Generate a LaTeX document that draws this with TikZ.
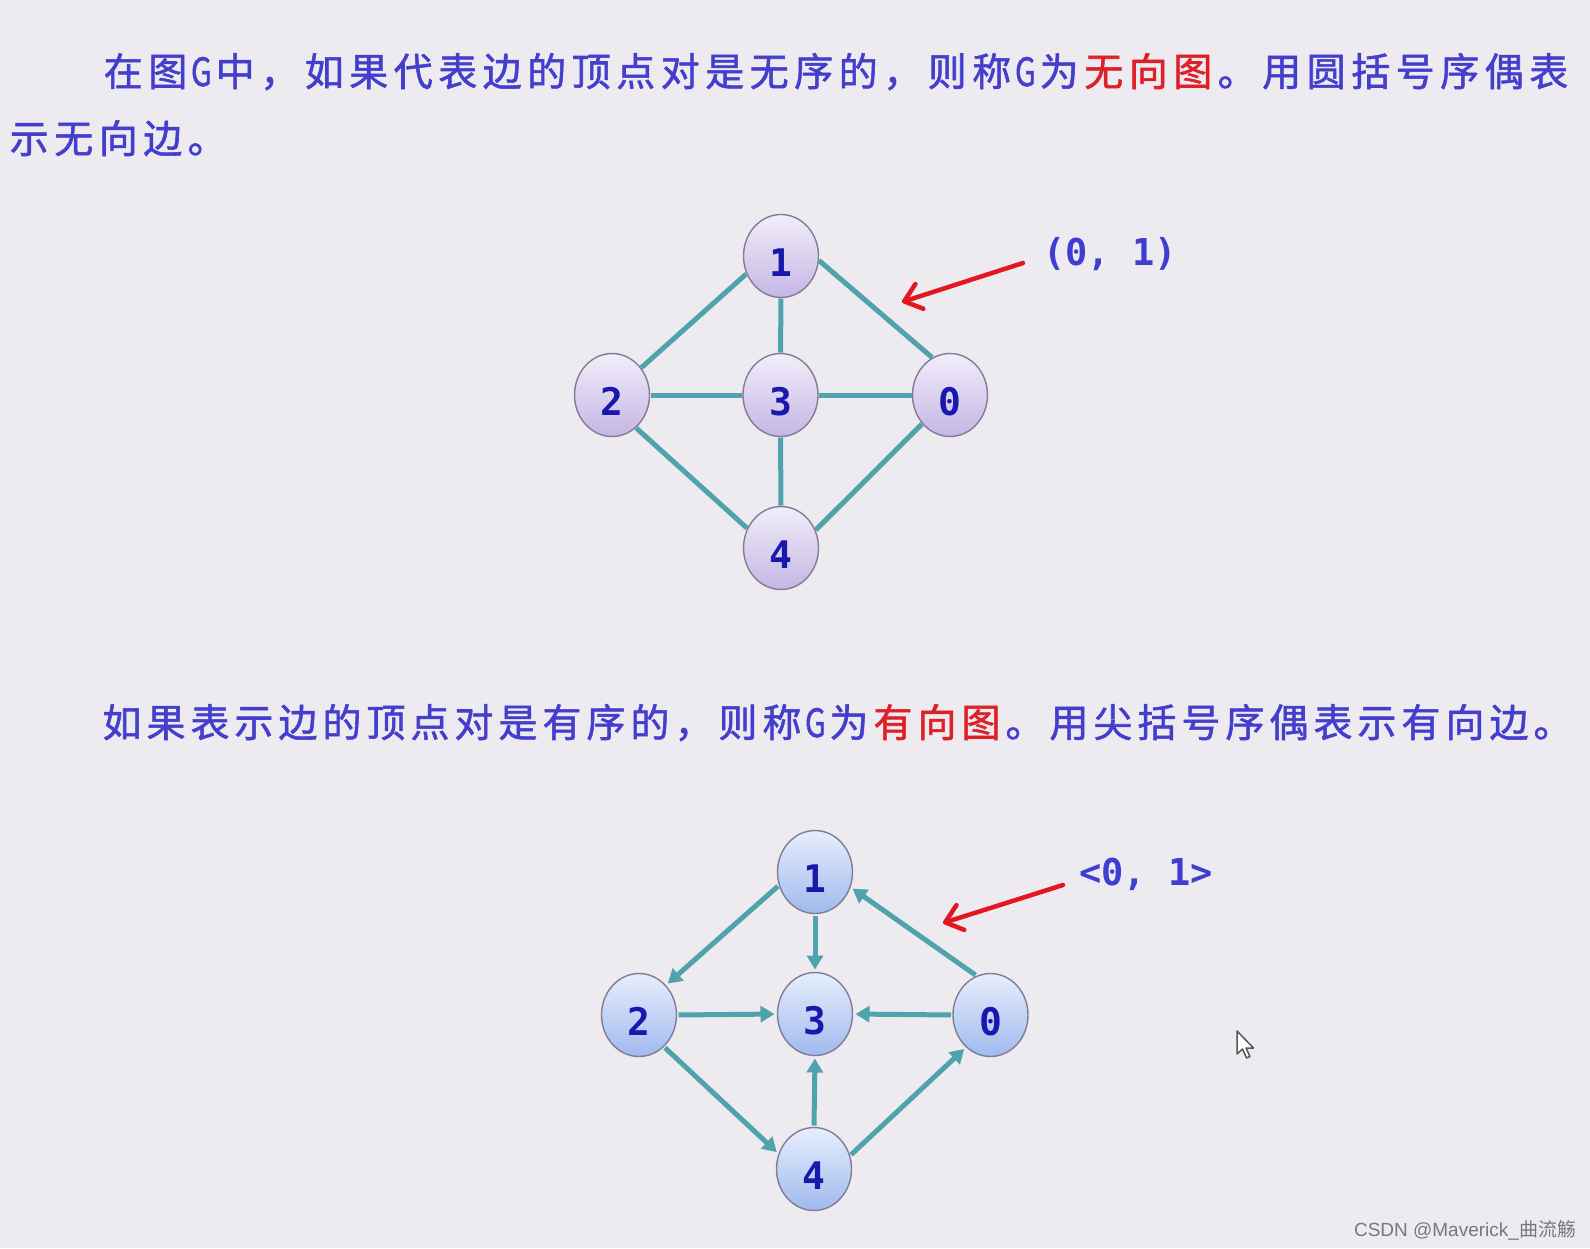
\documentclass[tikz,border=0pt]{standalone}
\usepackage{fontspec}
\usepackage{graphicx}
\usetikzlibrary{arrows.meta,shapes.geometric}
\newfontfamily\cjk{Noto Sans CJK SC}[FakeBold=1.4]
\newfontfamily\cjkw{Noto Sans CJK SC}
\newfontfamily\monof{DejaVu Sans Mono}
\newfontfamily\wmsans{Liberation Sans}
\definecolor{bgc}{RGB}{238,235,240}
\definecolor{txtblue}{RGB}{68,62,205}
\definecolor{txtred}{RGB}{222,32,40}
\definecolor{edgec}{RGB}{80,162,172}
\definecolor{numblue}{RGB}{24,24,172}
\definecolor{lblblue}{RGB}{62,62,210}
\definecolor{arrred}{RGB}{228,22,32}
\definecolor{wmgray}{RGB}{120,120,124}
\definecolor{nodeline}{RGB}{128,124,150}
\definecolor{lavtop}{RGB}{242,238,250}
\definecolor{lavbot}{RGB}{196,182,228}
\definecolor{blutop}{RGB}{230,238,252}
\definecolor{blubot}{RGB}{160,186,238}
\newlength\cjkpitch
\setlength\cjkpitch{44pt}
\def\cjkspread#1{\cjkspreadi#1\relax}
\def\cjkspreadi#1{\ifx\relax#1\else\makebox[\cjkpitch][c]{#1}\expandafter\cjkspreadi\fi}
\newcommand\gchar{\makebox[23pt][c]{\scalebox{0.78}[1]{G}}}
\begin{document}
\begin{tikzpicture}[x=1pt,y=-1pt,
  every node/.style={inner sep=0pt, outer sep=0pt},
  para/.style={anchor=base west, text=txtblue, font=\cjk\fontsize{39}{44}\selectfont},
  vtx/.style={ellipse, minimum width=75pt, minimum height=83pt, draw=nodeline, line width=1.4pt,
    text=numblue, font=\monof\bfseries\fontsize{38}{40}\selectfont, text height=41pt, text depth=0pt},
  uvtx/.style={vtx, top color=lavtop, bottom color=lavbot},
  dvtx/.style={vtx, top color=blutop, bottom color=blubot},
  uedge/.style={draw=edgec, line width=5pt, shorten <=1pt, shorten >=1pt},
  dedge/.style={draw=edgec, line width=5pt, shorten <=2pt, shorten >=3pt, -{Triangle[length=14pt,width=16pt]}},
  redarr/.style={draw=arrred, line width=4.5pt, line cap=round, -{Straight Barb[length=16pt,width=26pt,round]}},
  lbl/.style={anchor=west, text=lblblue, font=\monof\bfseries\fontsize{37}{40}\selectfont}
]
\fill[bgc] (0,0) rectangle (1590,1248);
\useasboundingbox (0,0) rectangle (1590,1248);

% paragraphs
\node[para] (t1) at (101,86) {\setlength\cjkpitch{44.5pt}\cjkspread{在图}\gchar\cjkspread{中，如果代表边的顶点对是无序的，则称}\gchar\cjkspread{为}{\color{txtred}\cjkspread{无向图}}\cjkspread{。用圆括号序偶表}};
\node[para] (t2) at (7,153) {\setlength\cjkpitch{44.5pt}\cjkspread{示无向边。}};
\node[para] (t3) at (100,737) {\cjkspread{如果表示边的顶点对是有序的，则称}\gchar\cjkspread{为}{\color{txtred}\cjkspread{有向图}}\cjkspread{。用尖括号序偶表示有向边。}};

% undirected graph
\node[uvtx] (u1) at (781,256) {1};
\node[uvtx] (u2) at (612,395) {2};
\node[uvtx] (u3) at (780.5,395) {3};
\node[uvtx] (u0) at (950,395) {0};
\node[uvtx] (u4) at (781,548) {4};
\draw[uedge] (u1.207.8) -- (u2.43.6);
\draw[uedge] (u1.354.1) -- (u0.115.5);
\draw[uedge] (u1.south) -- (u3.north);
\draw[uedge] (u2.east) -- (u3.west);
\draw[uedge] (u3.east) -- (u0.west);
\draw[uedge] (u2.306.6) -- (u4.150.1);
\draw[uedge] (u3.south) -- (u4.north);
\draw[uedge] (u4.27.8) -- (u0.226.7);

\coordinate (ra1) at (1023,263);
\coordinate (ra2) at (902,302);
\draw[redarr] (ra1) -- (ra2);
\node[lbl] (l1) at (1043,254) {(0, 1)};

% directed graph
\node[dvtx] (d1) at (815,872) {1};
\node[dvtx] (d2) at (639,1015) {2};
\node[dvtx] (d3) at (815,1014) {3};
\node[dvtx] (d0) at (990.5,1015) {0};
\node[dvtx] (d4) at (814,1169) {4};
\draw[dedge] (d1.200.2) -- (d2.48.9);
\draw[dedge] (d1.south) -- (d3.north);
\draw[dedge] (d0.109) -- (d1.337.8);
\draw[dedge] (d2.east) -- (d3.west);
\draw[dedge] (d0.west) -- (d3.east);
\draw[dedge] (d2.308.4) -- (d4.157.2);
\draw[dedge] (d4.north) -- (d3.south);
\draw[dedge] (d4.20.2) -- (d0.233);

\coordinate (rb1) at (1063,885);
\coordinate (rb2) at (943,923);
\draw[redarr] (rb1) -- (rb2);
\node[lbl] (l2) at (1079,874) {<0, 1>};

% mouse pointer
\draw[fill=white, draw={rgb,255:red,85;green,85;blue,90}, line width=1.5pt, line join=round]
  (1237,1031) -- ++(0,23) -- ++(5.5,-5) -- ++(4,9) -- ++(3.5,-1.5) -- ++(-4,-8.5) -- ++(7.5,0) -- cycle;

% watermark
\node[anchor=base east, text=wmgray, font=\wmsans\fontsize{19}{22}\selectfont] (wm) at (1576,1236) {CSDN @Maverick\_{\cjkw 曲流觞}};
\end{tikzpicture}
\end{document}
